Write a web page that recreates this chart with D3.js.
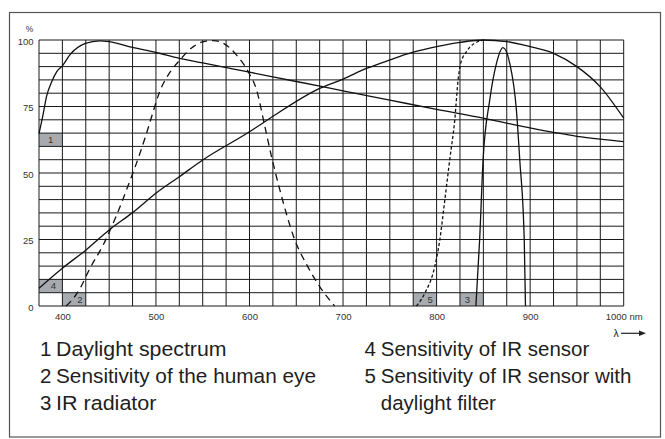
<!DOCTYPE html>
<html>
<head>
<meta charset="utf-8">
<script src="https://cdn.jsdelivr.net/npm/d3@7"></script>
<style>
  html, body { margin: 0; padding: 0; background: #fff; }
  svg { display: block; font-family: "Liberation Sans", Arial, Helvetica, sans-serif; }
</style>
</head>
<body>
<svg id="chart" width="665" height="439"></svg>
<script>
// ---------- data ----------
const xTicks = [400, 500, 600, 700, 800, 900, 1000];
const xTickLabels = ["400", "500", "600", "700", "800", "900", "1000 nm"];
const yTicks = [0, 25, 50, 75, 100];
const yTickLabels = ["0", "25", "50", "75", "100"];

// 1 Daylight spectrum
const daylight = [
  [375, 64.8], [379.6, 72.4], [383, 78.7], [388.6, 84.3], [394, 88.1], [400, 90.3],
  [408, 94.4], [424.5, 98.7], [440, 99.7], [450, 99.4], [475, 97.2], [500, 95.3],
  [525, 93.1], [550, 91.4], [600, 87.9], [650, 84.4], [700, 80.9], [750, 77.4],
  [800, 73.9], [850, 70.6], [885, 68.0], [925, 65.3], [950, 63.8], [975, 62.7], [1000, 61.8]
];
// 2 Sensitivity of the human eye
const humanEye = [
  [404, 0], [412, 3], [419, 6.7], [429.5, 14.2], [443.7, 23], [458, 34.2], [470, 45],
  [483, 57.5], [490, 65], [497, 73], [504, 80.6], [513, 86.8], [525.6, 92.5], [540, 97.5],
  [550, 99.3], [561, 99.8], [572, 98.8], [586, 94.4], [598.6, 88.1], [607.6, 81.2],
  [616.5, 67.4], [623.6, 56.1], [631.6, 44.8], [648.5, 24.8], [662, 15], [675, 7.3], [691, 0]
];
// 3 IR radiator
const irRadiator = [
  [842, 0], [846, 24.8], [849.7, 54.9], [856.8, 77.4], [864, 91.2], [871, 97.1],
  [878.2, 91.2], [885.3, 73.7], [888.9, 54.9], [893.7, 24.8], [895, 0]
];
// 4 Sensitivity of IR sensor
const irSensor = [
  [375, 6.7], [400, 14.2], [425, 21], [450, 28.6], [475, 35.1], [500, 42.4], [525, 48.6],
  [550, 54.9], [600, 65.5], [622, 70.6], [675, 81.8], [700, 85.3], [725, 89.3], [750, 92.5],
  [775, 95.4], [800, 97.5], [825, 99.1], [850, 100], [875, 99.4], [900, 97.5], [925, 95],
  [950, 90], [975, 82.4], [1000, 70.6]
];
// 5 Sensitivity of IR sensor with daylight filter
const irFiltered = [
  [778.5, 0], [787.4, 4.8], [798, 14.8], [803.4, 24.8], [808.5, 39], [814, 54.9],
  [819.4, 69.9], [823, 85], [825, 90], [828.3, 93.7], [832, 95.6], [835.5, 97.3],
  [840, 98.6], [846, 99.6], [852, 100]
];

// curve markers (grey boxes): label, nm range, % range
const markerLabels = ["1", "4", "2", "5", "3"];
const markerX0 = [375, 375, 400, 775, 825];
const markerX1 = [400, 400, 425, 800, 850];
const markerY0 = [60, 5, 0, 0, 0];
const markerY1 = [65, 10, 5, 5, 5];

const legendNumbers = ["1", "2", "3", "4", "5", ""];
const legendTexts = ["Daylight spectrum", "Sensitivity of the human eye", "IR radiator",
  "Sensitivity of IR sensor", "Sensitivity of IR sensor with", "daylight filter"];

// ---------- layout ----------
const svg = d3.select("#chart");
const x = d3.scaleLinear().domain([375, 1000]).range([39, 623.7]);
const y = d3.scaleLinear().domain([0, 100]).range([306, 40]);

// outer frame
svg.append("rect").attr("x", 9.5).attr("y", 12.5).attr("width", 651).attr("height", 424.5)
  .attr("fill", "none").attr("stroke", "#555").attr("stroke-width", 1.2);

// grey marker boxes
const markerLabelDx = [0.5, 0.62, 0.75, 0.72, 0.32];
const mk = svg.append("g");
markerLabels.forEach((lab, i) => {
  mk.append("rect")
    .attr("x", x(markerX0[i])).attr("y", y(markerY1[i]))
    .attr("width", x(markerX1[i]) - x(markerX0[i]))
    .attr("height", y(markerY0[i]) - y(markerY1[i]))
    .attr("fill", "#a7abb0");
  mk.append("text")
    .attr("x", x(markerX0[i]) + markerLabelDx[i] * (x(markerX1[i]) - x(markerX0[i])))
    .attr("y", (y(markerY0[i]) + y(markerY1[i])) / 2)
    .attr("dy", "0.36em").attr("text-anchor", "middle")
    .attr("font-size", 9.5).attr("fill", "#333").text(lab);
});

// grid
const grid = svg.append("g").attr("stroke", "#1a1a1a").attr("stroke-width", 1).attr("fill", "none");
d3.range(375, 1000.1, 25).forEach(v => {
  grid.append("line").attr("x1", x(v)).attr("x2", x(v)).attr("y1", y(0)).attr("y2", y(100));
});
d3.range(0, 100.1, 5).forEach(v => {
  grid.append("line").attr("x1", x(375)).attr("x2", x(1000)).attr("y1", y(v)).attr("y2", y(v));
});

// axes labels
const xAxis = d3.axisBottom(x).tickValues(xTicks).tickSize(0).tickPadding(0)
  .tickFormat((d, i) => xTickLabels[i]);
const gx = svg.append("g").attr("transform", `translate(0,${y(0)})`).call(xAxis);
gx.select(".domain").remove();
gx.selectAll("text").attr("font-size", 9.5).attr("fill", "#333")
  .attr("font-family", "Liberation Sans, Arial, sans-serif").attr("y", 13.5).attr("dy", 0);

const yAxis = d3.axisLeft(y).tickValues(yTicks).tickSize(0).tickPadding(0)
  .tickFormat((d, i) => yTickLabels[i]);
const gy = svg.append("g").attr("transform", `translate(33.5,0)`).call(yAxis);
gy.select(".domain").remove();
gy.selectAll("text").attr("font-size", 9.5).attr("fill", "#333")
  .attr("font-family", "Liberation Sans, Arial, sans-serif").attr("x", 0).attr("dy", "0.45em");

svg.append("text").attr("x", 29.5).attr("y", 31.5).attr("text-anchor", "middle")
  .attr("font-size", 8.5).attr("fill", "#333").text("%");

// lambda arrow
svg.append("text").attr("x", 616).attr("y", 337).attr("text-anchor", "middle")
  .attr("font-size", 10.5).attr("fill", "#222").text("λ");
svg.append("line").attr("x1", 621).attr("x2", 640).attr("y1", 333.3).attr("y2", 333.3)
  .attr("stroke", "#222").attr("stroke-width", 1.2);
svg.append("path").attr("d", "M639,330.5 L646,333.3 L639,336.1 Z").attr("fill", "#222");

// curves
const line = d3.line().x(d => x(d[0])).y(d => y(d[1])).curve(d3.curveMonotoneX);
const curves = svg.append("g").attr("fill", "none").attr("stroke", "#111").attr("stroke-width", 1.3);
curves.append("path").attr("d", line(daylight));
curves.append("path").attr("d", line(irSensor));
curves.append("path").attr("d", line(irRadiator));
curves.append("path").attr("d", line(humanEye)).attr("stroke-dasharray", "7,5");
curves.append("path").attr("d", line(irFiltered)).attr("stroke-dasharray", "3.2,2.2");

// legend
const legNumX = [40, 40, 40, 364.5, 364.5, 364.5];
const legTextX = [56, 56, 56, 380.8, 380.8, 380.8];
const legTextLen = [170.5, 260, 100.5, null, null, null];
const legY = [355.5, 383, 410, 355.5, 383, 410];
const leg = svg.append("g").attr("font-size", 20.5).attr("fill", "#1e1e1e");
legendTexts.forEach((t, i) => {
  if (legendNumbers[i]) leg.append("text").attr("x", legNumX[i]).attr("y", legY[i]).text(legendNumbers[i]);
  const tx = leg.append("text").attr("x", legTextX[i]).attr("y", legY[i]).text(t);
  if (legTextLen[i]) tx.attr("textLength", legTextLen[i]).attr("lengthAdjust", "spacingAndGlyphs");
});
</script>
</body>
</html>
